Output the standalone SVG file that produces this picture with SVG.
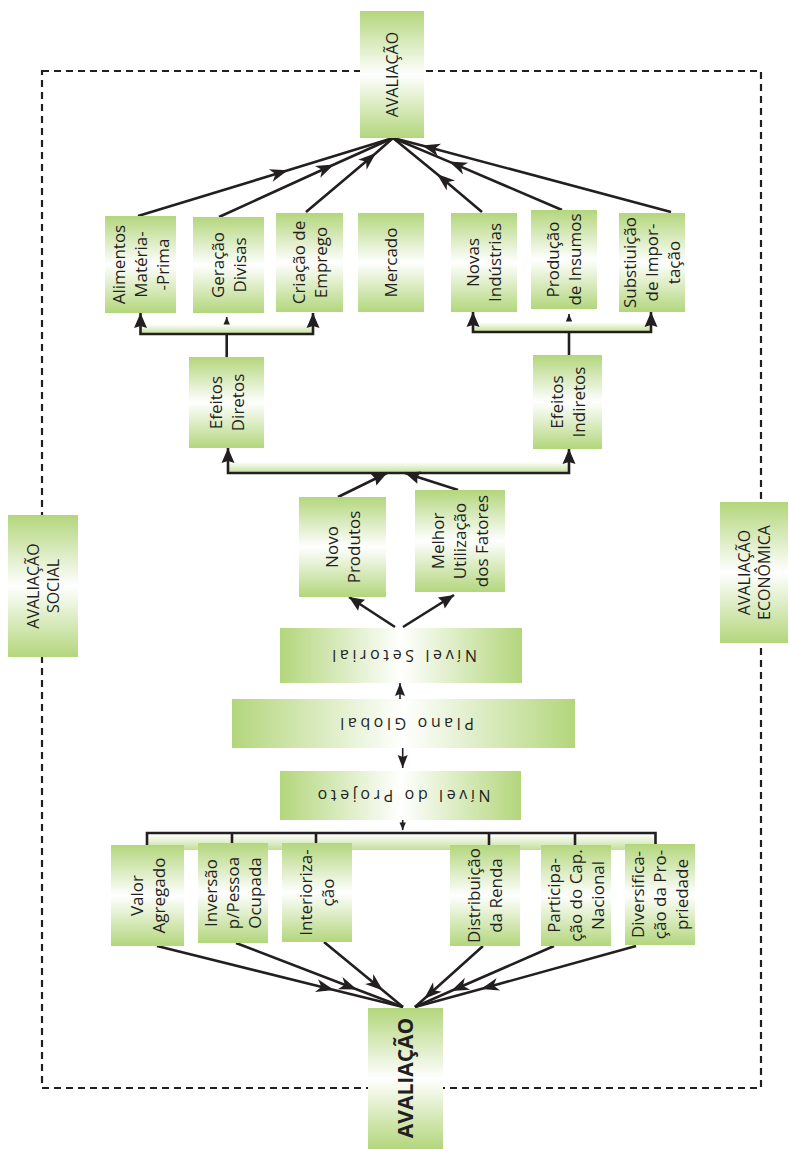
<svg xmlns="http://www.w3.org/2000/svg" width="789" height="1149" viewBox="0 0 789 1149">
  <style>
    .t { font-family: "Open Sans", "Noto Sans", sans-serif; font-size: 17px; fill: #231f20; text-anchor: middle; }
    .side { font-size: 16px; }
    .big { font-size: 16px; }
    .bold { font-size: 21px; font-weight: 700; }
    .h { font-family: "Open Sans", "Noto Sans", sans-serif; font-size: 16px; letter-spacing: 3.6px; fill: #231f20; text-anchor: middle; }
    .bv { fill: url(#gV); }
    .bh { fill: url(#gH); }
    .band { fill: url(#gBand); }
    .ln { fill: none; stroke: #231f20; stroke-width: 2.6; }
    .thin { fill: none; stroke: #231f20; stroke-width: 1.6; }
    .frame { fill: none; stroke: #231f20; stroke-width: 2.2; stroke-dasharray: 7 5; }
  </style>
  <defs>
    <linearGradient id="gV" x1="0" y1="0" x2="0" y2="1">
      <stop offset="0" stop-color="#b3d67c"/>
      <stop offset="0.5" stop-color="#ffffff"/>
      <stop offset="1" stop-color="#b3d67c"/>
    </linearGradient>
    <linearGradient id="gH" x1="0" y1="0" x2="1" y2="0">
      <stop offset="0" stop-color="#b3d67c"/>
      <stop offset="0.5" stop-color="#ffffff"/>
      <stop offset="1" stop-color="#b3d67c"/>
    </linearGradient>
    <linearGradient id="gBand" x1="0" y1="0" x2="0" y2="1">
      <stop offset="0" stop-color="#ffffff"/>
      <stop offset="1" stop-color="#c3df98"/>
    </linearGradient>
    <!-- concave arrowhead used along the long connectors -->
    <marker id="ahMid" viewBox="-19 -7 20 14" refX="0" refY="0" markerWidth="20" markerHeight="14" markerUnits="userSpaceOnUse" orient="auto">
      <path d="M0,0 L-18,-6.5 L-13,0 L-18,6.5 Z" fill="#231f20"/>
    </marker>
    <!-- arrowheads at bracket ends -->
    <marker id="ahEnd" viewBox="-16 -7 17 14" refX="0" refY="0" markerWidth="17" markerHeight="14" markerUnits="userSpaceOnUse" orient="auto-start-reverse">
      <path d="M0,0 L-15,-6.5 L-13,0 L-15,6.5 Z" fill="#231f20"/>
    </marker>
    <marker id="ahMed" viewBox="-14 -6 15 12" refX="0" refY="0" markerWidth="15" markerHeight="12" markerUnits="userSpaceOnUse" orient="auto">
      <path d="M0,0 L-13,-5 L-11,0 L-13,5 Z" fill="#231f20"/>
    </marker>
    <marker id="ahSmall" viewBox="-8 -4 9 8" refX="0" refY="0" markerWidth="9" markerHeight="8" markerUnits="userSpaceOnUse" orient="auto">
      <path d="M0,0 L-7.5,-3.2 L-7.5,3.2 Z" fill="#231f20"/>
    </marker>
  </defs>

  <rect width="789" height="1149" fill="#ffffff"/>

  <!-- outer dashed boundary -->
  <rect id="frame" class="frame" x="42" y="71" width="719" height="1017"/>

  <!-- connectors -->
  <g id="connectors">
    <!-- light bands inside brackets -->
    <rect class="band" x="140.5" y="324" width="172.5" height="10"/>
    <rect class="band" x="473" y="322" width="178" height="10"/>
    <rect class="band" x="228" y="462" width="341" height="11"/>
    <rect class="band" x="147" y="834" width="508.5" height="16"/>

    <!-- upper fan into top evaluation -->
    <path class="ln" d="M138,216 L288,170.3 L393,138" marker-mid="url(#ahMid)"/>
    <path class="ln" d="M219,217 L334,164.5 L393,138" marker-mid="url(#ahMid)"/>
    <path class="ln" d="M306,212 L376,153 L393,138" marker-mid="url(#ahMid)"/>
    <path class="ln" d="M482,212 L437,174 L393,138" marker-mid="url(#ahMid)"/>
    <path class="ln" d="M562,210 L449,161.6 L393,138" marker-mid="url(#ahMid)"/>
    <path class="ln" d="M671,212 L422,145.5 L393,138" marker-mid="url(#ahMid)"/>

    <!-- direct effects bracket -->
    <path class="ln" d="M140.5,313 V334 H313 V313" marker-start="url(#ahEnd)" marker-end="url(#ahEnd)"/>
    <path class="ln" d="M226.7,357 V334"/>
    <path class="thin" d="M226.7,324 V317" marker-end="url(#ahSmall)"/>

    <!-- indirect effects bracket -->
    <path class="ln" d="M473,312 V332 H651 V312" marker-start="url(#ahEnd)" marker-end="url(#ahEnd)"/>
    <path class="ln" d="M569,355 V332"/>
    <path class="thin" d="M569,321 V314" marker-end="url(#ahSmall)"/>

    <!-- effects bracket -->
    <path class="ln" d="M228,448 V473 H569 V449" marker-start="url(#ahEnd)" marker-end="url(#ahEnd)"/>
    <path class="ln" d="M338,497 L387,473" marker-end="url(#ahEnd)"/>
    <path class="ln" d="M458,490 L405,473" marker-end="url(#ahEnd)"/>

    <!-- sector level to products / factors -->
    <path class="ln" d="M395,627 L349,597" marker-end="url(#ahEnd)"/>
    <path class="ln" d="M403,627 L454,595" marker-end="url(#ahEnd)"/>

    <!-- global plan links -->
    <path class="thin" d="M400,699 V683" marker-end="url(#ahMed)"/>
    <path class="thin" d="M402.7,748 V768" marker-end="url(#ahMed)"/>
    <path class="thin" d="M402.7,820 V830" marker-end="url(#ahSmall)"/>

    <!-- project level bracket -->
    <path class="ln" d="M147,850 V833 H655.5 V850"/>
    <path class="ln" d="M232,833 V850 M316,833 V850 M489,833 V850 M575,833 V850"/>

    <!-- lower fan into bottom evaluation -->
    <path class="ln" d="M157,946 L334,990 L403,1007" marker-mid="url(#ahMid)"/>
    <path class="ln" d="M236,943 L357,989.5 L403,1007" marker-mid="url(#ahMid)"/>
    <path class="ln" d="M324,942 L383,990.5 L403,1007" marker-mid="url(#ahMid)"/>
    <path class="ln" d="M483,946 L424,999 L415,1007" marker-mid="url(#ahMid)"/>
    <path class="ln" d="M554,946 L451,991 L415,1007" marker-mid="url(#ahMid)"/>
    <path class="ln" d="M636,946 L481,989 L415,1007" marker-mid="url(#ahMid)"/>
  </g>

  <!-- top evaluation -->
  <g id="n-avaliacao-top">
    <rect class="bv" x="360" y="11" width="64" height="127"/>
    <text class="t big" transform="translate(392,74.5) rotate(-90)"><tspan x="0" y="6">AVALIAÇÃO</tspan></text>
  </g>

  <!-- upper row -->
  <g id="n-alimentos">
    <rect class="bv" x="105" y="216" width="71" height="97"/>
    <text class="t" transform="translate(140.5,264.5) rotate(-90)"><tspan x="0" y="-16">Alimentos</tspan><tspan x="0" y="6">Matéria-</tspan><tspan x="0" y="28">-Prima</tspan></text>
  </g>
  <g id="n-geracao">
    <rect class="bv" x="193" y="217" width="71" height="96"/>
    <text class="t" transform="translate(228.5,265) rotate(-90)"><tspan x="0" y="-5">Geração</tspan><tspan x="0" y="17">Divisas</tspan></text>
  </g>
  <g id="n-criacao">
    <rect class="bv" x="276" y="213" width="67" height="99"/>
    <text class="t" transform="translate(309.5,262.5) rotate(-90)"><tspan x="0" y="-5">Criação de</tspan><tspan x="0" y="17">Emprego</tspan></text>
  </g>
  <g id="n-mercado">
    <rect class="bv" x="358" y="213" width="66" height="99"/>
    <text class="t" transform="translate(391,262.5) rotate(-90)"><tspan x="0" y="6">Mercado</tspan></text>
  </g>
  <g id="n-novas">
    <rect class="bv" x="451" y="213" width="66" height="99"/>
    <text class="t" transform="translate(484,262.5) rotate(-90)"><tspan x="0" y="-5">Novas</tspan><tspan x="0" y="17">Indústrias</tspan></text>
  </g>
  <g id="n-producao">
    <rect class="bv" x="531" y="210" width="66" height="99"/>
    <text class="t" transform="translate(564,259.5) rotate(-90)"><tspan x="0" y="-5">Produção</tspan><tspan x="0" y="17">de Insumos</tspan></text>
  </g>
  <g id="n-substituicao">
    <rect class="bv" x="619" y="213" width="66" height="99"/>
    <text class="t" transform="translate(652,262.5) rotate(-90)"><tspan x="0" y="-16">Substiuição</tspan><tspan x="0" y="6">de Impor-</tspan><tspan x="0" y="28">tação</tspan></text>
  </g>

  <!-- effects -->
  <g id="n-efeitos-diretos">
    <rect class="bv" x="189" y="357" width="75" height="91"/>
    <text class="t" transform="translate(226.5,402.5) rotate(-90)"><tspan x="0" y="-5">Efeitos</tspan><tspan x="0" y="17">Diretos</tspan></text>
  </g>
  <g id="n-efeitos-indiretos">
    <rect class="bv" x="533" y="355" width="69" height="94"/>
    <text class="t" transform="translate(567.5,402) rotate(-90)"><tspan x="0" y="-5">Efeitos</tspan><tspan x="0" y="17">Indiretos</tspan></text>
  </g>

  <!-- products and factors -->
  <g id="n-novo-produtos">
    <rect class="bv" x="299" y="497" width="87" height="100"/>
    <text class="t" transform="translate(342.5,547) rotate(-90)"><tspan x="0" y="-5">Novo</tspan><tspan x="0" y="17">Produtos</tspan></text>
  </g>
  <g id="n-melhor-utilizacao">
    <rect class="bv" x="415" y="490" width="90" height="102"/>
    <text class="t" transform="translate(460,541) rotate(-90)"><tspan x="0" y="-16">Melhor</tspan><tspan x="0" y="6">Utilização</tspan><tspan x="0" y="28">dos Fatores</tspan></text>
  </g>

  <!-- levels -->
  <g id="n-nivel-setorial">
    <rect class="bh" x="280" y="628" width="242" height="55"/>
    <text class="h" transform="translate(402.8,655.5) rotate(180)" y="6">Nível Setorial</text>
  </g>
  <g id="n-plano-global">
    <rect class="bh" x="232" y="699" width="343" height="49"/>
    <text class="h" transform="translate(405.3,723.5) rotate(180)" y="6">Plano Global</text>
  </g>
  <g id="n-nivel-projeto">
    <rect class="bh" x="280" y="771" width="241" height="49"/>
    <text class="h" transform="translate(402.3,795.5) rotate(180)" y="6">Nível do Projeto</text>
  </g>

  <!-- lower row -->
  <g id="n-valor">
    <rect class="bv" x="111" y="845" width="73" height="101"/>
    <text class="t" transform="translate(147.5,895.5) rotate(-90)"><tspan x="0" y="-5">Valor</tspan><tspan x="0" y="17">Agregado</tspan></text>
  </g>
  <g id="n-inversao">
    <rect class="bv" x="198" y="843" width="70" height="100"/>
    <text class="t" transform="translate(233,893) rotate(-90)"><tspan x="0" y="-16">Inversão</tspan><tspan x="0" y="6">p/Pessoa</tspan><tspan x="0" y="28">Ocupada</tspan></text>
  </g>
  <g id="n-interiorizacao">
    <rect class="bv" x="282" y="843" width="70" height="99"/>
    <text class="t" transform="translate(317,892.5) rotate(-90)"><tspan x="0" y="-5">Interioriza-</tspan><tspan x="0" y="17">ção</tspan></text>
  </g>
  <g id="n-distribuicao">
    <rect class="bv" x="450" y="845" width="70" height="101"/>
    <text class="t" transform="translate(485,895.5) rotate(-90)"><tspan x="0" y="-5">Distribuição</tspan><tspan x="0" y="17">da Renda</tspan></text>
  </g>
  <g id="n-participacao">
    <rect class="bv" x="541" y="845" width="70" height="101"/>
    <text class="t" transform="translate(576,895.5) rotate(-90)"><tspan x="0" y="-16">Participa-</tspan><tspan x="0" y="6">ção do Cap.</tspan><tspan x="0" y="28">Nacional</tspan></text>
  </g>
  <g id="n-diversificacao">
    <rect class="bv" x="625" y="844" width="70" height="101"/>
    <text class="t" transform="translate(660,894.5) rotate(-90)"><tspan x="0" y="-16">Diversifica-</tspan><tspan x="0" y="6">ção da Pro-</tspan><tspan x="0" y="28">priedade</tspan></text>
  </g>

  <!-- bottom evaluation -->
  <g id="n-avaliacao-bottom">
    <rect class="bv" x="368" y="1008" width="75" height="141"/>
    <text class="t bold" transform="translate(405.5,1078) rotate(-90)"><tspan x="0" y="7.5">AVALIAÇÃO</tspan></text>
  </g>

  <!-- side evaluations -->
  <g id="n-avaliacao-social">
    <rect class="bv" x="8" y="515" width="70" height="142"/>
    <text class="t side" transform="translate(43,586) rotate(-90)"><tspan x="0" y="-4">AVALIAÇÃO</tspan><tspan x="0" y="16">SOCIAL</tspan></text>
  </g>
  <g id="n-avaliacao-economica">
    <rect class="bv" x="720" y="502" width="68" height="141"/>
    <text class="t side" transform="translate(754,572.5) rotate(-90)"><tspan x="0" y="-4">AVALIAÇÃO</tspan><tspan x="0" y="16">ECONÔMICA</tspan></text>
  </g>
</svg>
